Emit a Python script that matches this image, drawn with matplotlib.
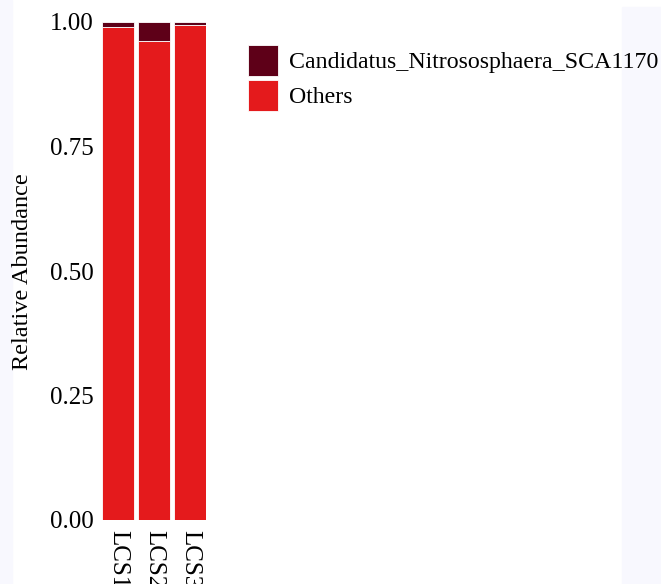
import matplotlib

matplotlib.use("Agg")
import matplotlib.pyplot as plt
from matplotlib.patches import Rectangle

samples = ["LCS1", "LCS2", "LCS3"]
taxa = ["Candidatus_Nitrososphaera_SCA1170", "Others"]
candidatus = [0.011, 0.038, 0.007]
others = [1 - v for v in candidatus]
colors = ["#5E0018", "#E41A1C"]
yticks = [0.00, 0.25, 0.50, 0.75, 1.00]

plt.rcParams["font.family"] = ["Liberation Serif", "DejaVu Serif"]

fig = plt.figure(figsize=(6.61, 5.84), dpi=100)
# faint side strips from the original export
fig.patches.append(Rectangle((0, 0), 12 / 661, 1, transform=fig.transFigure,
                             color="#F8F8FE", zorder=0))
fig.patches.append(Rectangle((622 / 661, 0), 39 / 661, 1 - 7 / 584,
                             transform=fig.transFigure, color="#F8F8FE", zorder=0))

ax = fig.add_axes([102 / 661, 1 - 520 / 584, 104 / 661, 498 / 584])
x = range(len(samples))
ax.bar(x, others, width=0.9, color=colors[1], edgecolor="white", linewidth=0.6,
       label=taxa[1])
ax.bar(x, candidatus, bottom=others, width=0.9, color=colors[0], edgecolor="white",
       linewidth=0.6, label=taxa[0])

ax.set_xlim(-0.45, 2.45)
ax.set_ylim(0, 1)
ax.set_yticks(yticks)
ax.set_yticklabels([f"{v:.2f}" for v in yticks], fontsize=18)
ax.set_xticks(list(x))
# labels run off the bottom edge, as in the original export
ax.set_xticklabels(samples, rotation=-90, fontsize=18, va="top", ha="center")
ax.tick_params(length=0, pad=7)
ax.tick_params(axis="y", pad=6)
for s in ax.spines.values():
    s.set_visible(False)
ax.set_facecolor("none")

fig.text(23 / 661, 1 - 272 / 584, "Relative Abundance", rotation=90, fontsize=17.5,
         ha="center", va="center")

handles, labels = ax.get_legend_handles_labels()
leg = fig.legend(handles[::-1], labels[::-1], loc="upper left",
                 bbox_to_anchor=(248 / 661, 1 - 45 / 584), frameon=False,
                 fontsize=17.2, handlelength=1.25, handleheight=1.6,
                 handletextpad=0.45, labelspacing=0.18, borderaxespad=0,
                 borderpad=0)

fig.savefig("out.png", dpi=100)
